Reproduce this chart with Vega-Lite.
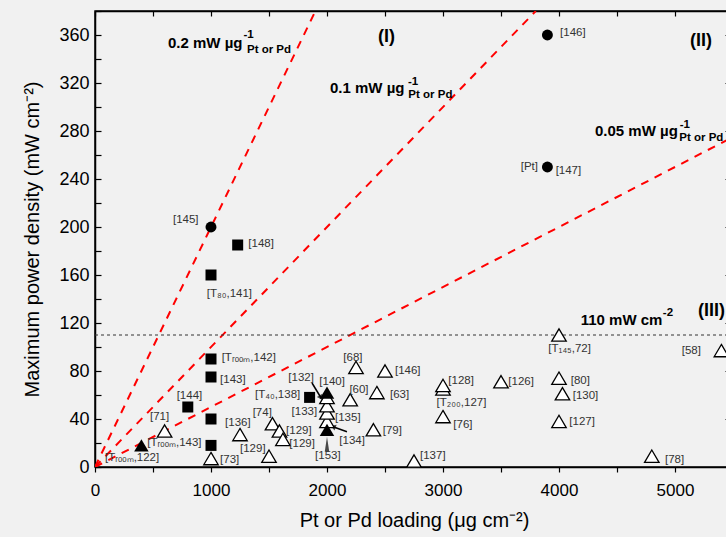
{
  "$schema": "https://vega.github.io/schema/vega-lite/v6.json",
  "width": 638,
  "height": 456,
  "autosize": {"type": "none"},
  "padding": {"left": 95, "top": 11, "right": 0, "bottom": 70},
  "background": "#f1f1f1",
  "config": {
    "font": "Liberation Sans",
    "view": {"stroke": "#000000", "strokeWidth": 1.5},
    "axis": {"grid": false, "domainColor": "#000000", "domainWidth": 1.5, "tickColor": "#000000", "tickWidth": 1.2, "labelColor": "#000000", "titleColor": "#000000", "labelFont": "Liberation Sans", "titleFont": "Liberation Sans"}
  },
  "datasets": {
    "pts": [
      {"x": 600, "y": 30, "kind": "open"},
      {"x": 1000, "y": 7, "kind": "open"},
      {"x": 1250, "y": 27, "kind": "open"},
      {"x": 1530, "y": 36, "kind": "open"},
      {"x": 1590, "y": 30, "kind": "open"},
      {"x": 1620, "y": 23, "kind": "open"},
      {"x": 1500, "y": 9, "kind": "open"},
      {"x": 2000, "y": 38, "kind": "open"},
      {"x": 2000, "y": 45, "kind": "open"},
      {"x": 2000, "y": 51, "kind": "open"},
      {"x": 2000, "y": 58, "kind": "open"},
      {"x": 2250, "y": 83, "kind": "open"},
      {"x": 2200, "y": 56, "kind": "open"},
      {"x": 2430, "y": 62, "kind": "open"},
      {"x": 2500, "y": 80, "kind": "open"},
      {"x": 2400, "y": 31, "kind": "open"},
      {"x": 2750, "y": 5, "kind": "open"},
      {"x": 3000, "y": 65, "kind": "open"},
      {"x": 3000, "y": 68, "kind": "open"},
      {"x": 3000, "y": 42, "kind": "open"},
      {"x": 3500, "y": 71, "kind": "open"},
      {"x": 4000, "y": 110, "kind": "open"},
      {"x": 4000, "y": 74, "kind": "open"},
      {"x": 4030, "y": 61, "kind": "open"},
      {"x": 4000, "y": 38, "kind": "open"},
      {"x": 4800, "y": 9, "kind": "open"},
      {"x": 5400, "y": 97, "kind": "open"},
      {"x": 400, "y": 18, "kind": "filledtri"},
      {"x": 2000, "y": 62, "kind": "filledtri"},
      {"x": 2000, "y": 31, "kind": "filledtri"},
      {"x": 1230, "y": 185, "kind": "square"},
      {"x": 1000, "y": 160, "kind": "square"},
      {"x": 1000, "y": 90, "kind": "square"},
      {"x": 1000, "y": 75, "kind": "square"},
      {"x": 800, "y": 50, "kind": "square"},
      {"x": 1000, "y": 40, "kind": "square"},
      {"x": 1000, "y": 18, "kind": "square"},
      {"x": 1850, "y": 58, "kind": "square"},
      {"x": 1000, "y": 200, "kind": "circle"},
      {"x": 3900, "y": 360, "kind": "circle"},
      {"x": 3900, "y": 250, "kind": "circle"}
    ],
    "labels": [
      {"x": 672, "y": 205.5, "text": "[145]"},
      {"x": 4009, "y": 361.7, "text": "[146]"},
      {"x": 3670, "y": 249.7, "text": "[Pt]"},
      {"x": 3971, "y": 246.3, "text": "[147]"},
      {"x": 1322, "y": 186, "text": "[148]"},
      {"x": 963, "y": 144.4, "text": "[T₈₀,141]"},
      {"x": 1092, "y": 90.8, "text": "[Tᵣₒₒₘ,142]"},
      {"x": 1078, "y": 72.8, "text": "[143]"},
      {"x": 704, "y": 58.8, "text": "[144]"},
      {"x": 474, "y": 41.3, "text": "[71]"},
      {"x": 451, "y": 20, "text": "[Tᵣₒₒₘ,143]"},
      {"x": 86, "y": 7.5, "text": "[Tᵣₒₒₘ,122]"},
      {"x": 1078, "y": 6, "text": "[73]"},
      {"x": 1121, "y": 36.6, "text": "[136]"},
      {"x": 1359, "y": 45, "text": "[74]"},
      {"x": 1647, "y": 29.7, "text": "[129]"},
      {"x": 1675, "y": 19.4, "text": "[129]"},
      {"x": 1250, "y": 15, "text": "[129]"},
      {"x": 1667, "y": 74, "text": "[132]"},
      {"x": 1934, "y": 70.5, "text": "[140]"},
      {"x": 1379, "y": 60, "text": "[T₄₀,138]"},
      {"x": 1695, "y": 45.8, "text": "[133]"},
      {"x": 2069, "y": 40.8, "text": "[135]"},
      {"x": 2106, "y": 21.3, "text": "[134]"},
      {"x": 1897, "y": 8.8, "text": "[153]"},
      {"x": 2141, "y": 90.8, "text": "[68]"},
      {"x": 2193, "y": 63.8, "text": "[60]"},
      {"x": 2543, "y": 60.3, "text": "[63]"},
      {"x": 2586, "y": 79.7, "text": "[146]"},
      {"x": 2480, "y": 30.3, "text": "[79]"},
      {"x": 3046, "y": 71.4, "text": "[128]"},
      {"x": 2945, "y": 53.3, "text": "[T₂₀₀,127]"},
      {"x": 3089, "y": 35.3, "text": "[76]"},
      {"x": 3563, "y": 70.5, "text": "[126]"},
      {"x": 3908, "y": 98.6, "text": "[T₁₄₅,72]"},
      {"x": 4101, "y": 71.4, "text": "[80]"},
      {"x": 4118, "y": 58.9, "text": "[130]"},
      {"x": 4089, "y": 37.2, "text": "[127]"},
      {"x": 2802, "y": 8.8, "text": "[137]"},
      {"x": 4914, "y": 6, "text": "[78]"},
      {"x": 5058, "y": 96.4, "text": "[58]"}
    ],
    "notes": [
      {"x": 629, "y": 349, "text": "0.2 mW µg", "part": "main"},
      {"x": 2026, "y": 312, "text": "0.1 mW µg", "part": "main"},
      {"x": 4310, "y": 276, "text": "0.05 mW µg", "part": "main"},
      {"x": 4187, "y": 118.6, "text": "110 mW cm", "part": "main"},
      {"x": 1280, "y": 357.8, "text": "-1", "part": "sup"},
      {"x": 2698, "y": 318.6, "text": "-1", "part": "sup"},
      {"x": 5040, "y": 282.7, "text": "-1", "part": "sup"},
      {"x": 4895, "y": 125.5, "text": "-2", "part": "sup"},
      {"x": 1310, "y": 345, "text": "Pt or Pd", "part": "sub"},
      {"x": 2701, "y": 307.5, "text": "Pt or Pd", "part": "sub"},
      {"x": 5037, "y": 272, "text": "Pt or Pd", "part": "sub"},
      {"x": 2440, "y": 354, "text": "(I)", "part": "roman"},
      {"x": 5129, "y": 351, "text": "(II)", "part": "roman"},
      {"x": 5198, "y": 125.5, "text": "(III)", "part": "roman"}
    ],
    "redlines": [
      {"r": "0.2", "x": 0, "y": 0},
      {"r": "0.2", "x": 1900, "y": 380},
      {"r": "0.1", "x": 0, "y": 0},
      {"r": "0.1", "x": 3800, "y": 380},
      {"r": "0.05", "x": 0, "y": 0},
      {"r": "0.05", "x": 5500, "y": 275}
    ],
    "ref110": [
      {"x": 0, "y": 110},
      {"x": 5500, "y": 110}
    ],
    "arrows": [
      {"id": "a132", "x": 1871, "y": 70, "x2": 1948, "y2": 57.7},
      {"id": "a134", "x": 2172, "y": 29.4, "x2": 2052, "y2": 33.6}
    ],
    "spike": [
      {"x": 2000, "y": 18.9}
    ]
  },
  "layer": [
    {
      "data": {"name": "redlines"},
      "mark": {"type": "line", "color": "#ff0000", "strokeWidth": 2, "strokeDash": [8, 7], "clip": true},
      "encoding": {
        "x": {"field": "x", "type": "quantitative", "scale": {"domain": [0, 5500], "nice": false},
          "axis": {"orient": "bottom", "values": [0, 500, 1000, 1500, 2000, 2500, 3000, 3500, 4000, 4500, 5000, 5500],
            "labelExpr": "datum.value % 1000 === 0 ? datum.label : ''", "format": "d",
            "tickSize": 5, "labelFontSize": 17, "labelPadding": 10, "labelFlush": false,
            "title": "Pt or Pd loading (μg cm⁻²)", "titleFontSize": 20, "titleFontWeight": "normal", "titlePadding": 12}},
        "y": {"field": "y", "type": "quantitative", "scale": {"domain": [0, 380], "nice": false},
          "axis": {"orient": "left", "values": [0, 20, 40, 60, 80, 100, 120, 140, 160, 180, 200, 220, 240, 260, 280, 300, 320, 340, 360, 380],
            "labelExpr": "datum.value % 40 === 0 ? datum.label : ''",
            "tickSize": -6, "labelFontSize": 18, "labelPadding": 12, "labelFlush": false,
            "title": "Maximum power density (mW cm⁻²)", "titleFontSize": 20, "titleFontWeight": "normal", "titlePadding": 16}},
        "detail": {"field": "r"},
        "order": {"field": "x", "type": "quantitative"}
      }
    },
    {
      "data": {"name": "ref110"},
      "mark": {"type": "line", "color": "#333333", "strokeWidth": 1, "strokeDash": [3, 3]},
      "encoding": {
        "x": {"field": "x", "type": "quantitative",
          "axis": {"orient": "top", "values": [0, 500, 1000, 1500, 2000, 2500, 3000, 3500, 4000, 4500, 5000, 5500], "labels": false, "tickSize": -5, "title": null}},
        "y": {"field": "y", "type": "quantitative",
          "axis": {"orient": "right", "values": [0, 40, 80, 120, 160, 200, 240, 280, 320, 360], "labels": false, "tickSize": -8, "title": null}}
      }
    },
    {
      "data": {"name": "arrows"},
      "mark": {"type": "rule", "color": "#000000", "strokeWidth": 1.5},
      "encoding": {
        "x": {"field": "x", "type": "quantitative", "axis": null},
        "y": {"field": "y", "type": "quantitative", "axis": null},
        "x2": {"field": "x2"},
        "y2": {"field": "y2"}
      }
    },
    {
      "data": {"name": "arrows"},
      "transform": [{"filter": "datum.id === 'a132'"}],
      "mark": {"type": "point", "shape": "triangle-up", "filled": true, "color": "#000000", "size": 40, "angle": 149},
      "encoding": {
        "x": {"field": "x2", "type": "quantitative", "axis": null},
        "y": {"field": "y2", "type": "quantitative", "axis": null}
      }
    },
    {
      "data": {"name": "arrows"},
      "transform": [{"filter": "datum.id === 'a134'"}],
      "mark": {"type": "point", "shape": "triangle-up", "filled": true, "color": "#000000", "size": 40, "angle": 290},
      "encoding": {
        "x": {"field": "x2", "type": "quantitative", "axis": null},
        "y": {"field": "y2", "type": "quantitative", "axis": null}
      }
    },
    {
      "data": {"name": "spike"},
      "mark": {"type": "point", "shape": "M0,-1L0.3,1L-0.3,1Z", "filled": true, "color": "#000000", "size": 225},
      "encoding": {
        "x": {"field": "x", "type": "quantitative", "axis": null},
        "y": {"field": "y", "type": "quantitative", "axis": null}
      }
    },
    {
      "data": {"name": "pts"},
      "transform": [{"filter": "datum.kind === 'open'"}],
      "mark": {"type": "point", "shape": "M0,-0.85L1,0.85L-1,0.85Z", "filled": true, "fill": "#ffffff", "stroke": "#000000", "strokeWidth": 1.3, "size": 210, "opacity": 1},
      "encoding": {
        "x": {"field": "x", "type": "quantitative", "axis": null},
        "y": {"field": "y", "type": "quantitative", "axis": null}
      }
    },
    {
      "data": {"name": "pts"},
      "transform": [{"filter": "datum.kind === 'filledtri'"}],
      "mark": {"type": "point", "shape": "M0,-0.85L1,0.85L-1,0.85Z", "filled": true, "color": "#000000", "size": 210, "opacity": 1},
      "encoding": {
        "x": {"field": "x", "type": "quantitative", "axis": null},
        "y": {"field": "y", "type": "quantitative", "axis": null}
      }
    },
    {
      "data": {"name": "pts"},
      "transform": [{"filter": "datum.kind === 'square'"}],
      "mark": {"type": "point", "shape": "square", "filled": true, "color": "#000000", "size": 121, "opacity": 1},
      "encoding": {
        "x": {"field": "x", "type": "quantitative", "axis": null},
        "y": {"field": "y", "type": "quantitative", "axis": null}
      }
    },
    {
      "data": {"name": "pts"},
      "transform": [{"filter": "datum.kind === 'circle'"}],
      "mark": {"type": "point", "shape": "circle", "filled": true, "color": "#000000", "size": 120, "opacity": 1},
      "encoding": {
        "x": {"field": "x", "type": "quantitative", "axis": null},
        "y": {"field": "y", "type": "quantitative", "axis": null}
      }
    },
    {
      "data": {"name": "labels"},
      "mark": {"type": "text", "align": "left", "baseline": "middle", "fontSize": 11.5, "color": "#333333", "font": "Liberation Sans"},
      "encoding": {
        "x": {"field": "x", "type": "quantitative", "axis": null},
        "y": {"field": "y", "type": "quantitative", "axis": null},
        "text": {"field": "text"}
      }
    },
    {
      "data": {"name": "notes"},
      "transform": [{"filter": "datum.part === 'main'"}],
      "mark": {"type": "text", "align": "left", "baseline": "alphabetic", "fontSize": 15, "fontWeight": "bold", "color": "#000000", "font": "Liberation Sans"},
      "encoding": {
        "x": {"field": "x", "type": "quantitative", "axis": null},
        "y": {"field": "y", "type": "quantitative", "axis": null},
        "text": {"field": "text"}
      }
    },
    {
      "data": {"name": "notes"},
      "transform": [{"filter": "datum.part === 'sup' || datum.part === 'sub'"}],
      "mark": {"type": "text", "align": "left", "baseline": "alphabetic", "fontSize": 11.5, "fontWeight": "bold", "color": "#000000", "font": "Liberation Sans"},
      "encoding": {
        "x": {"field": "x", "type": "quantitative", "axis": null},
        "y": {"field": "y", "type": "quantitative", "axis": null},
        "text": {"field": "text"}
      }
    },
    {
      "data": {"name": "notes"},
      "transform": [{"filter": "datum.part === 'roman'"}],
      "mark": {"type": "text", "align": "left", "baseline": "alphabetic", "fontSize": 18, "fontWeight": "bold", "color": "#000000", "font": "Liberation Sans"},
      "encoding": {
        "x": {"field": "x", "type": "quantitative", "axis": null},
        "y": {"field": "y", "type": "quantitative", "axis": null},
        "text": {"field": "text"}
      }
    }
  ],
  "resolve": {"axis": {"x": "independent", "y": "independent"}}
}
